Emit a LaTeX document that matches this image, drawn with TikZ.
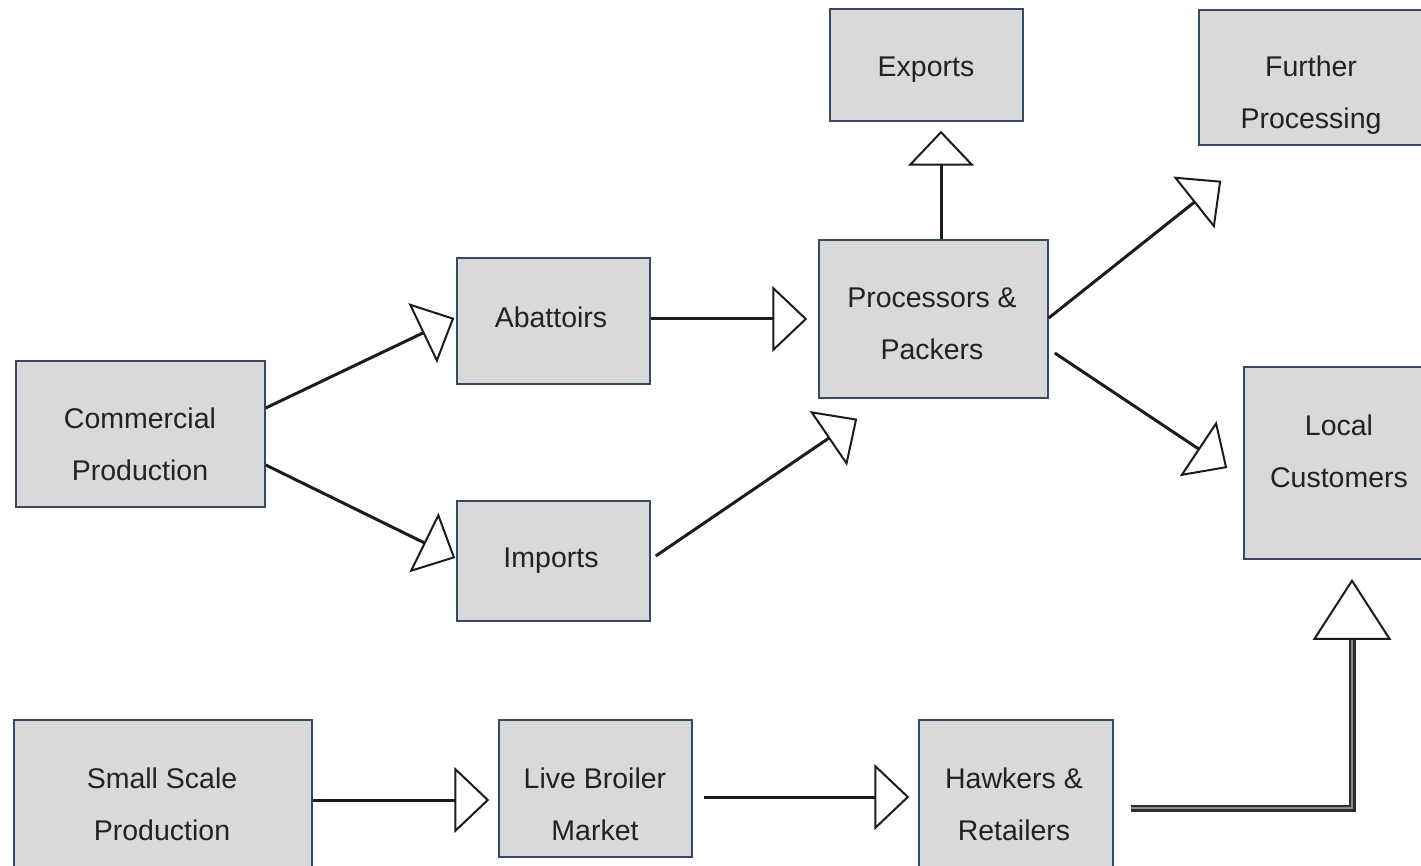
\documentclass[tikz,border=0pt]{standalone}
\usepackage{fontspec}
\setmainfont{Liberation Sans}
\usetikzlibrary{arrows.meta,calc}
\definecolor{boxfill}{HTML}{D9D9D9}
\definecolor{boxedge}{HTML}{3A4868}
\definecolor{linecol}{HTML}{1C1C1C}
\definecolor{txtcol}{HTML}{222222}
\definecolor{dblout}{HTML}{2E2E2E}
\definecolor{dblin}{HTML}{8A8A8A}
\begin{document}
\begin{tikzpicture}[x=1pt,y=-1pt,
  box/.style={draw=boxedge, fill=boxfill, line width=1.5pt, rectangle, inner sep=0pt},
  lbl/.style={text=txtcol, align=center, inner sep=0pt, font=\fontsize{28.5}{52}\selectfont},
  flow/.style={draw=linecol, line width=3pt,
    -{Triangle[open, length=35pt, width=66pt, line width=2pt]}},
  dblflow/.style={draw=dblout, line width=2.2pt, double=dblin, double distance=2.6pt},
  bigtip/.style={draw=linecol, line width=2pt, fill=white, line join=miter},
]
\clip (0,0) rectangle (1421,866);
\fill[white] (0,0) rectangle (1421,866);

% boxes
\node[box, minimum width=249pt, minimum height=146pt] (cp) at (140.5,434) {};
\node[box, minimum width=193pt, minimum height=126pt] (ab) at (553.5,321) {};
\node[box, minimum width=193pt, minimum height=120pt] (im) at (553.5,561) {};
\node[box, minimum width=229pt, minimum height=158pt] (pp) at (933.5,319) {};
\node[box, minimum width=193pt, minimum height=112pt] (ex) at (926.5,65) {};
\node[box, minimum width=224pt, minimum height=135pt] (fp) at (1311,77.5) {};
\node[box, minimum width=190pt, minimum height=192pt] (lc) at (1339,463) {};
\node[box, minimum width=298pt, minimum height=166pt] (ss) at (163,803) {};
\node[box, minimum width=193pt, minimum height=137pt] (lb) at (595.5,788.5) {};
\node[box, minimum width=194pt, minimum height=166pt] (hr) at (1016,803) {};

% labels
\node[lbl] (cp-t) at (140,444) {Commercial\\Production};
\node[lbl] (ab-t) at (551,317) {Abattoirs};
\node[lbl] (im-t) at (551,561) {Imports};
\node[lbl] (pp-t) at (932,324) {Processors \&\\Packers};
\node[lbl] (ex-t) at (926,70) {Exports};
\node[lbl] (fp-t) at (1311,95) {Further\\Processing};
\node[lbl] (lc-t) at (1339,451) {Local\\Customers};
\node[lbl] (ss-t) at (162,804) {Small Scale\\Production};
\node[lbl] (lb-t) at (595,804) {Live Broiler\\Market};
\node[lbl] (hr-t) at (1014,804) {Hawkers \&\\Retailers};

% connectors
\draw[flow] ($(cp.east)+(0,-26)$) -- ($(ab.west)+(-2,-3)$);
\draw[flow] ($(cp.east)+(0,31)$) -- ($(im.west)+(-1,-3)$);
\draw[flow] ($(ab.east)+(0,-2)$) -- ($(pp.west)+(-11,0)$);
\draw[flow] ($(im.east)+(5,-5)$) -- ($(pp.south west)+(39,20)$);
\draw[flow] ($(pp.north)+(7.5,0)$) -- ($(ex.south)+(14.5,9)$);
\draw[flow] ($(pp.east)+(0,-1)$) -- ($(fp.south west)+(23,35)$);
\draw[flow] ($(pp.east)+(6,34)$) -- ($(lc.west)+(-16,5)$);
\draw[flow] ($(ss.east)+(0,-3)$) -- ($(lb.west)+(-9,11.5)$);
\draw[flow] ($(lb.east)+(11,8.5)$) -- ($(hr.west)+(-9,-6)$);

% double connector into Local Customers
\coordinate (hr-out) at ($(hr.east)+(17,5)$);
\coordinate (lc-tip) at ($(lc.south)+(13,21)$);
\coordinate (lc-base) at ($(lc-tip)+(0,58)$);
\draw[dblflow] (hr-out) -| (lc-base);
\draw[bigtip] ($(lc-base)+(-37.5,0)$) -- (lc-tip) -- ($(lc-base)+(37.5,0)$) -- cycle;
\end{tikzpicture}
\end{document}
